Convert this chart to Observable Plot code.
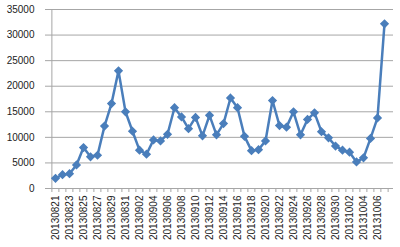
<!DOCTYPE html>
<html><head><meta charset="utf-8">
<script src="https://cdn.jsdelivr.net/npm/d3@7"></script>
<script src="https://cdn.jsdelivr.net/npm/@observablehq/plot@0.6"></script>
<style>body{margin:0;background:#fff;} svg{display:block;}</style>
</head><body><div id="chart"></div>
<script>
const dates = ["20130821","20130822","20130823","20130824","20130825","20130826","20130827","20130828","20130829","20130830","20130831",
"20130901","20130902","20130903","20130904","20130905","20130906","20130907","20130908","20130909","20130910","20130911","20130912","20130913","20130914","20130915","20130916","20130917","20130918","20130919","20130920","20130921","20130922","20130923","20130924","20130925","20130926","20130927","20130928","20130929","20130930",
"20131001","20131002","20131003","20131004","20131005","20131006","20131007"];
const values = [2000,2700,2900,4600,8000,6200,6500,12200,16600,23000,15000,11200,7500,6700,9500,9300,10600,15800,14000,11700,13900,10300,14300,10500,12700,17700,15800,10200,7400,7600,9300,17200,12300,12000,15000,10500,13500,14800,11100,9900,8300,7500,7100,5200,6000,9800,13800,32200];
const yTicks = [0,5000,10000,15000,20000,25000,30000,35000];
const labelDates = dates.filter((d,i)=>i%2===0);

const data = dates.map((d,i)=>({date:d, value:values[i]}));
const W = 400, H = 247, ml = 45, mr = 7;
const half = (W - ml - mr) / dates.length / 2;
const color = "#4a7ebb";

const chart = Plot.plot({
  width: W, height: H,
  marginLeft: ml, marginRight: mr, marginTop: 9, marginBottom: 59,
  style: {fontFamily: "'Liberation Sans', Arial, sans-serif", fontSize: "10px", color: "#222"},
  x: {type: "point", domain: dates, padding: 0.5, label: null},
  y: {domain: [0, 35000], label: null},
  marks: [
    Plot.gridY(yTicks, {stroke: "#a6a6a6", strokeOpacity: 1, strokeWidth: 1}),
    Plot.ruleX([dates[0]], {dx: -half, stroke: "#a6a6a6"}),
    Plot.axisY(yTicks, {tickSize: 0, tickPadding: 11, label: null, fill: "#222", tickFormat: d3.format("d")}),
    Plot.axisX(dates, {tickSize: 4, text: null, dx: -half, stroke: "#a6a6a6"}),
    Plot.axisX([dates[dates.length-1]], {tickSize: 4, text: null, dx: half, stroke: "#a6a6a6"}),
    Plot.axisX(labelDates, {tickSize: 0, tickPadding: 7, tickRotate: -90, label: null, fill: "#222"}),
    Plot.ruleY([0], {stroke: "#a6a6a6"}),
    Plot.line(data, {x: "date", y: "value", stroke: color, strokeWidth: 2.5}),
    Plot.dot(data, {x: "date", y: "value", symbol: "diamond2", fill: color, stroke: color, r: 3.2})
  ]
});
document.getElementById("chart").append(chart);
</script></body></html>
